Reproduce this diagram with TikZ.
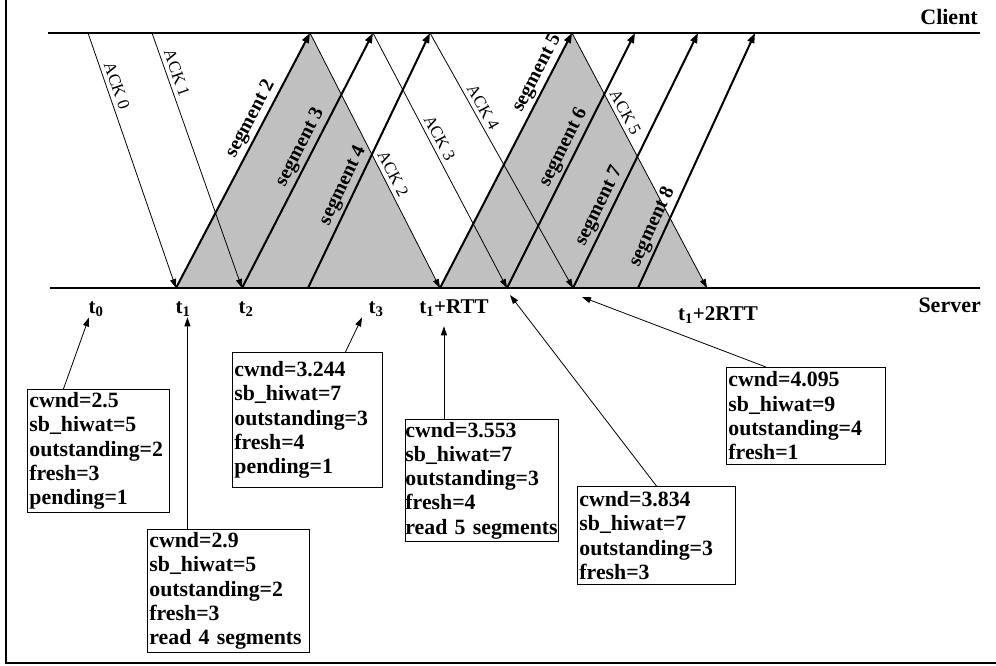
\documentclass[tikz,border=0pt]{standalone}
\usepackage{fontspec}
\setmainfont{Liberation Serif}
\usepackage{tikz}
\usetikzlibrary{arrows.meta, positioning, calc}
\definecolor{windowgray}{RGB}{192,192,192}

\begin{document}
\begin{tikzpicture}[x=1pt, y=-1pt,
  seg/.style={-{Triangle[length=10pt,width=7pt]}, line width=2pt},
  ack/.style={-{Triangle[length=9pt,width=6pt]}, line width=0.8pt},
  seglabel/.style={sloped, above, inner sep=2.5pt, font=\fontsize{20}{20}\selectfont\bfseries},
  acklabel/.style={sloped, above, inner sep=4pt, font=\fontsize{17}{17}\selectfont},
  timelabel/.style={anchor=base, inner sep=1pt, font=\fontsize{21}{21}\selectfont\bfseries},
  hostlabel/.style={anchor=base east, inner sep=0pt, font=\fontsize{22}{22}\selectfont\bfseries},
  statebox/.style={draw, line width=0.9pt, anchor=north west, align=left,
                   inner xsep=2pt, inner ysep=2pt, font=\fontsize{21.8}{24.3}\selectfont\bfseries},
  pointer/.style={-{Triangle[length=9pt,width=6pt]}, line width=0.8pt}]

\useasboundingbox (0,0) rectangle (996,665);

% Frame
\draw[line width=2.2pt] (6,0) -- (6,663) -- (996,663);

% Client side
\foreach \n/\x in {c0/88, c1/152, c2/310, c3/373, c4/430, c5/572, c6/635, c7/698, c8/755}
  \coordinate (\n) at (\x,33);
% Server side
\foreach \n/\x in {s2/176, s3/242, s4/308, s5/440, s6/507, s7/573, s8/638, s9/707}
  \coordinate (\n) at (\x,288);

% Windows
\fill[windowgray] (s2) -- (c2) -- (s5) -- cycle;
\fill[windowgray] (s5) -- (c5) -- (s9) -- cycle;

% Hosts
\draw[line width=2pt] (48,33) -- (980,33);
\draw[line width=2pt] (50,288) -- (980,288);
\node[hostlabel] (client) at (978,24) {Client};
\node[hostlabel] (server) at (981,312) {Server};

% ACKs
\foreach \c/\s/\n/\p in {c0/s2/0/0.22, c1/s3/1/0.17, c2/s5/2/0.57,
                         c3/s6/3/0.43, c4/s7/4/0.31, c5/s9/5/0.33}
  \draw[ack] (\c) -- node[acklabel, pos=\p] {ACK \n} (\s);

% Segments
\foreach \s/\c/\n/\p in {s2/c2/2/0.64, s3/c3/3/0.53, s4/c4/4/0.38, s5/c5/5/0.82,
                         s6/c6/6/0.53, s7/c7/7/0.30, s8/c8/8/0.22}
  \draw[seg] (\s) -- node[seglabel, pos=\p] {segment \n} (\c);

% Times
\node[timelabel] (t0) at (96,313) {t\textsubscript{0}};
\node[timelabel] (t1) at (183,313) {t\textsubscript{1}};
\node[timelabel] (t2) at (246,313) {t\textsubscript{2}};
\node[timelabel] (t3) at (376,313) {t\textsubscript{3}};
\node[timelabel] (trtt) at (454,313) {t\textsubscript{1}+RTT};
\node[timelabel] (t2rtt) at (718,320) {t\textsubscript{1}+2RTT};

% State
\node[statebox, text width=138pt, minimum height=123pt] (boxA) at (27,389)
  {cwnd=2.5\\sb\_hiwat=5\\outstanding=2\\fresh=3\\pending=1};
\node[statebox, text width=158pt, minimum height=123pt] (boxB) at (147,529)
  {cwnd=2.9\\sb\_hiwat=5\\outstanding=2\\fresh=3\\read 4 segments};
\node[statebox, text width=146pt, minimum height=135pt] (boxC) at (232,352)
  {cwnd=3.244\\sb\_hiwat=7\\outstanding=3\\fresh=4\\pending=1};
\node[statebox, inner xsep=0pt, text width=153pt, minimum height=122pt] (boxD) at (405,419)
  {cwnd=3.553\\sb\_hiwat=7\\outstanding=3\\fresh=4\\read 5 segments};
\node[statebox, text width=154pt, minimum height=98pt] (boxE) at (577,486)
  {cwnd=3.834\\sb\_hiwat=7\\outstanding=3\\fresh=3};
\node[statebox, text width=155pt, minimum height=97pt] (boxF) at (726,367)
  {cwnd=4.095\\sb\_hiwat=9\\outstanding=4\\fresh=1};

% Pointers
\coordinate (pE) at (510,295);
\coordinate (pF) at (582,297);
\draw[pointer] ([xshift=-35pt]boxA.north) -- ([xshift=-7pt]t0.south);
\draw[pointer] ([xshift=-41pt]boxB.north) -- ([xshift=-41pt]boxB.north |- t1.south);
\draw[pointer] ([xshift=38pt]boxC.north) -- ([xshift=-14pt]t3.south);
\draw[pointer] ([xshift=-38pt]boxD.north) -- ([xshift=-38pt,yshift=-9pt]boxD.north |- trtt.south);
\draw[pointer] (boxE.north) -- (pE);
\draw[pointer] ([xshift=-40pt]boxF.north) -- (pF);

\end{tikzpicture}
\end{document}
